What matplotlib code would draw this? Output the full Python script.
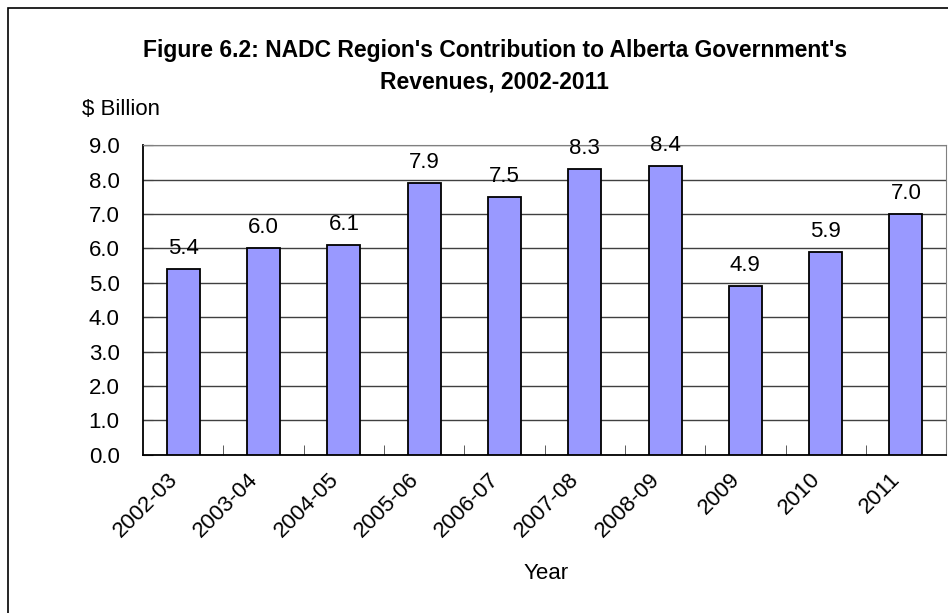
import numpy as np
import matplotlib.pyplot as plt
import matplotlib.transforms as mtransforms
from matplotlib.patches import Rectangle

plt.rcParams['font.family'] = ['Liberation Sans', 'DejaVu Sans']

years = ['2002-03', '2003-04', '2004-05', '2005-06', '2006-07',
         '2007-08', '2008-09', '2009', '2010', '2011']
revenues = [5.4, 6.0, 6.1, 7.9, 7.5, 8.3, 8.4, 4.9, 5.9, 7.0]
y_ticks = [0.0, 1.0, 2.0, 3.0, 4.0, 5.0, 6.0, 7.0, 8.0, 9.0]

fig = plt.figure(figsize=(9.48, 6.13), dpi=100)
ax = fig.add_axes([0.151, 0.258, 0.847, 0.505])

x = np.arange(len(years))
ax.bar(x, revenues, width=0.41, color='#9999FF', edgecolor='black',
       linewidth=1.3, zorder=3)
for xi, v in zip(x, revenues):
    ax.text(xi, v + 0.44, f'{v:.1f}', ha='center', va='baseline',
            fontsize=16, zorder=4)

ax.set_xlim(-0.5, len(years) - 0.5)
ax.set_ylim(0, 9)
ax.set_yticks(y_ticks)
ax.set_yticklabels([f'{t:.1f}' for t in y_ticks], fontsize=16)
ax.yaxis.grid(True, color='#404040', linewidth=1.0, zorder=0)
ax.tick_params(axis='y', direction='in', length=7, pad=17, color='#404040')

# category ticks sit between the bars, pointing up
ax.set_xticks(x[:-1] + 0.5, minor=True)
ax.set_xticks(x)
ax.set_xticklabels(years, fontsize=16, rotation=45, ha='right',
                   rotation_mode='anchor')
ax.tick_params(axis='x', which='major', length=0, pad=10)
ax.tick_params(axis='x', which='minor', direction='in', length=7,
               color='#404040')
shift = mtransforms.ScaledTranslation(-16 / 100, 0, fig.dpi_scale_trans)
for lbl in ax.get_xticklabels():
    lbl.set_transform(lbl.get_transform() + shift)

for side in ['left', 'bottom']:
    ax.spines[side].set_color('black')
    ax.spines[side].set_linewidth(1.3)
for side in ['top', 'right']:
    ax.spines[side].set_color('#808080')

fig.text(0.522, 0.918, "Figure 6.2: NADC Region's Contribution to Alberta Government's",
         ha='center', va='center', fontsize=16.5, fontweight='bold')
fig.text(0.522, 0.866, "Revenues, 2002-2011",
         ha='center', va='center', fontsize=16.5, fontweight='bold')
fig.text(0.086, 0.822, '$ Billion', ha='left', va='center', fontsize=16)
fig.text(0.576, 0.064, 'Year', ha='center', va='center', fontsize=16)

# outer chart border (only left and top are inside the picture)
fig.patches.append(Rectangle((8 / 948, -0.1), 1.2, 1 - 8 / 613 + 0.1,
                             transform=fig.transFigure, fill=False,
                             edgecolor='black', linewidth=1.2))

fig.savefig('out.png', dpi=100)
